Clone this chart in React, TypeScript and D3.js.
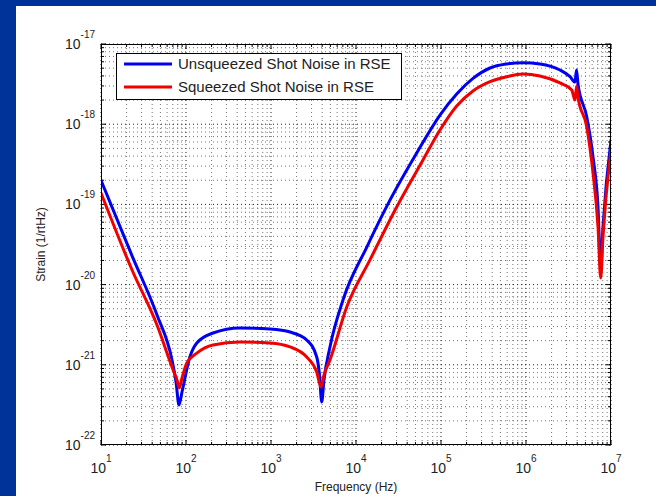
import React from "react";
import * as d3 from "d3";

// Frequencies (Hz) and strain values (1/rtHz)
const blueFreq = [10, 23.2, 45.6, 68.4, 76.3, 82.8, 89.7, 111, 134, 208, 432, 973, 1674, 2630, 3450, 3720, 3950, 4200, 4940, 7030, 13400, 25100, 51800, 97300, 153000, 238000, 377000, 593000, 923000, 1.46e6, 2.51e6, 3.30e6, 3.77e6, 3.93e6, 4.09e6, 5.18e6, 6.14e6, 7.03e6, 7.57e6, 8.05e6, 1e7];
const blueStrain = [2.0e-19, 2.28e-20, 4.18e-21, 1.15e-21, 6.1e-22, 3.15e-22, 4.58e-22, 1.25e-21, 1.87e-21, 2.49e-21, 2.88e-21, 2.79e-21, 2.56e-21, 2.04e-21, 1.25e-21, 7.5e-22, 3.44e-22, 6.45e-22, 1.67e-21, 6.43e-21, 2.94e-20, 1.13e-19, 4.38e-19, 1.30e-18, 2.38e-18, 3.72e-18, 5.02e-18, 5.64e-18, 5.85e-18, 5.64e-18, 4.74e-18, 3.91e-18, 3.36e-18, 4.74e-18, 3.17e-18, 1.24e-18, 3.94e-19, 9.35e-20, 1.67e-20, 5.27e-20, 6.35e-19];

const redFreq = [10, 23.2, 45.6, 68.4, 78.3, 83.4, 89.7, 102, 134, 208, 432, 973, 1674, 2630, 3450, 3870, 4200, 4940, 7780, 14600, 30100, 61400, 97300, 153000, 238000, 377000, 593000, 923000, 1.46e6, 2.51e6, 3.45e6, 3.77e6, 3.94e6, 4.09e6, 5.18e6, 6.14e6, 7.03e6, 7.57e6, 8.05e6, 1e7];
const redStrain = [1.39e-19, 1.52e-20, 3.13e-21, 9.4e-22, 6.45e-22, 5.14e-22, 6.84e-22, 1.05e-21, 1.40e-21, 1.77e-21, 1.92e-21, 1.87e-21, 1.67e-21, 1.25e-21, 8.13e-22, 5.28e-22, 7.46e-22, 1.15e-21, 5.26e-21, 2.03e-20, 9.29e-20, 3.58e-19, 8.47e-19, 1.69e-18, 2.60e-18, 3.39e-18, 3.91e-18, 4.23e-18, 3.99e-18, 3.27e-18, 2.67e-18, 2.00e-18, 2.99e-18, 2.18e-18, 9.3e-19, 2.47e-19, 5.27e-20, 1.21e-20, 3.95e-20, 4.76e-19];

const xExponents = [1, 2, 3, 4, 5, 6, 7];
const yExponents = [-22, -21, -20, -19, -18, -17];
const seriesNames = ["Unsqueezed Shot Noise in RSE", "Squeezed Shot Noise in RSE"];
const seriesColors = ["#0000f0", "#f00000"];
const xLabel = "Frequency (Hz)";
const yLabel = "Strain (1/rtHz)";

const W = 656, H = 496;
const L = 101, R = 611, T = 44, B = 445;
const FONT = "'Liberation Sans', Arial, sans-serif";

export default function App() {
  const x = d3.scaleLog().domain([1e1, 1e7]).range([L, R]);
  const y = d3.scaleLog().domain([1e-22, 1e-17]).range([B, T]);

  const line = d3
    .line<[number, number]>()
    .x((d) => x(d[0]))
    .y((d) => y(d[1]))
    .curve(d3.curveMonotoneX);

  const blueData = blueFreq.map((f, i) => [f, blueStrain[i]] as [number, number]);
  const redData = redFreq.map((f, i) => [f, redStrain[i]] as [number, number]);

  const xMinor: number[] = [];
  for (let e = 1; e < 7; e++) for (let m = 2; m <= 9; m++) xMinor.push(m * Math.pow(10, e));
  const yMinor: number[] = [];
  for (let e = -22; e < -17; e++) for (let m = 2; m <= 9; m++) yMinor.push(m * Math.pow(10, e));

  return (
    <svg width={W} height={H} style={{ position: "absolute", left: 0, top: 0, display: "block" }} fontFamily={FONT}>
      <defs>
        <clipPath id="plotclip">
          <rect x={L} y={T} width={R - L} height={B - T} />
        </clipPath>
      </defs>
      <rect x={0} y={0} width={W} height={H} fill="#003399" />
      <rect x={16} y={6} width={W - 16} height={H - 6} fill="#ffffff" />
      <rect x={L} y={T} width={R - L} height={B - T} fill="#ffffff" />

      {/* grid */}
      <g>
        {xMinor.map((v, i) => (
          <line key={"xm" + i} x1={x(v)} x2={x(v)} y1={T} y2={B} stroke="#777" strokeWidth={1} strokeDasharray="1,3" />
        ))}
        {yMinor.map((v, i) => (
          <line key={"ym" + i} x1={L} x2={R} y1={y(v)} y2={y(v)} stroke="#777" strokeWidth={1} strokeDasharray="1,3" />
        ))}
        {xExponents.map((e) => (
          <line key={"xM" + e} x1={x(Math.pow(10, e))} x2={x(Math.pow(10, e))} y1={T} y2={B} stroke="#222" strokeWidth={1} strokeDasharray="1,3" />
        ))}
        {yExponents.map((e) => (
          <line key={"yM" + e} x1={L} x2={R} y1={y(Math.pow(10, e))} y2={y(Math.pow(10, e))} stroke="#222" strokeWidth={1} strokeDasharray="1,3" />
        ))}
      </g>

      {/* ticks */}
      <g stroke="#000" strokeWidth={1}>
        {xMinor.map((v, i) => (
          <g key={"xt" + i}>
            <line x1={x(v)} x2={x(v)} y1={B} y2={B - 3} />
            <line x1={x(v)} x2={x(v)} y1={T} y2={T + 3} />
          </g>
        ))}
        {xExponents.map((e) => (
          <g key={"xT" + e}>
            <line x1={x(Math.pow(10, e))} x2={x(Math.pow(10, e))} y1={B} y2={B - 5} />
            <line x1={x(Math.pow(10, e))} x2={x(Math.pow(10, e))} y1={T} y2={T + 5} />
          </g>
        ))}
        {yMinor.map((v, i) => (
          <g key={"yt" + i}>
            <line x1={L} x2={L + 3} y1={y(v)} y2={y(v)} />
            <line x1={R} x2={R - 3} y1={y(v)} y2={y(v)} />
          </g>
        ))}
        {yExponents.map((e) => (
          <g key={"yT" + e}>
            <line x1={L} x2={L + 5} y1={y(Math.pow(10, e))} y2={y(Math.pow(10, e))} />
            <line x1={R} x2={R - 5} y1={y(Math.pow(10, e))} y2={y(Math.pow(10, e))} />
          </g>
        ))}
      </g>

      {/* curves */}
      <g clipPath="url(#plotclip)" fill="none" strokeLinejoin="round" strokeLinecap="round">
        <path d={line(blueData) || ""} stroke={seriesColors[0]} strokeWidth={3} />
        <path d={line(redData) || ""} stroke={seriesColors[1]} strokeWidth={3} />
      </g>

      {/* axes box */}
      <rect x={L + 0.5} y={T + 0.5} width={R - L - 1} height={B - T - 1} fill="none" stroke="#000" strokeWidth={1} />

      {/* tick labels */}
      <g fill="#222">
        {xExponents.map((e) => (
          <text key={"xl" + e} x={x(Math.pow(10, e))} y={473} textAnchor="middle" fontSize={14}>
            <tspan>10</tspan>
            <tspan fontSize={10} dy={-11}>{String(e)}</tspan>
          </text>
        ))}
        {yExponents.map((e) => (
          <text key={"yl" + e} x={95} y={y(Math.pow(10, e)) + 5} textAnchor="end" fontSize={14}>
            <tspan>10</tspan>
            <tspan fontSize={10} dy={-11}>{String(e)}</tspan>
          </text>
        ))}
      </g>

      {/* axis labels */}
      <text x={(L + R) / 2} y={491} textAnchor="middle" fontSize={12} fill="#222">{xLabel}</text>
      <text transform={`translate(45,${(T + B) / 2}) rotate(-90)`} textAnchor="middle" fontSize={12} fill="#222">{yLabel}</text>

      {/* legend */}
      <g>
        <rect x={116.5} y={53.5} width={285} height={46} fill="#fff" stroke="#000" strokeWidth={1} />
        {seriesNames.map((n, i) => (
          <g key={n}>
            <line x1={124} x2={172} y1={64 + i * 23} y2={64 + i * 23} stroke={seriesColors[i]} strokeWidth={3} />
            <text x={178} y={69 + i * 23} fontSize={15} fill="#222">{n}</text>
          </g>
        ))}
      </g>
    </svg>
  );
}
